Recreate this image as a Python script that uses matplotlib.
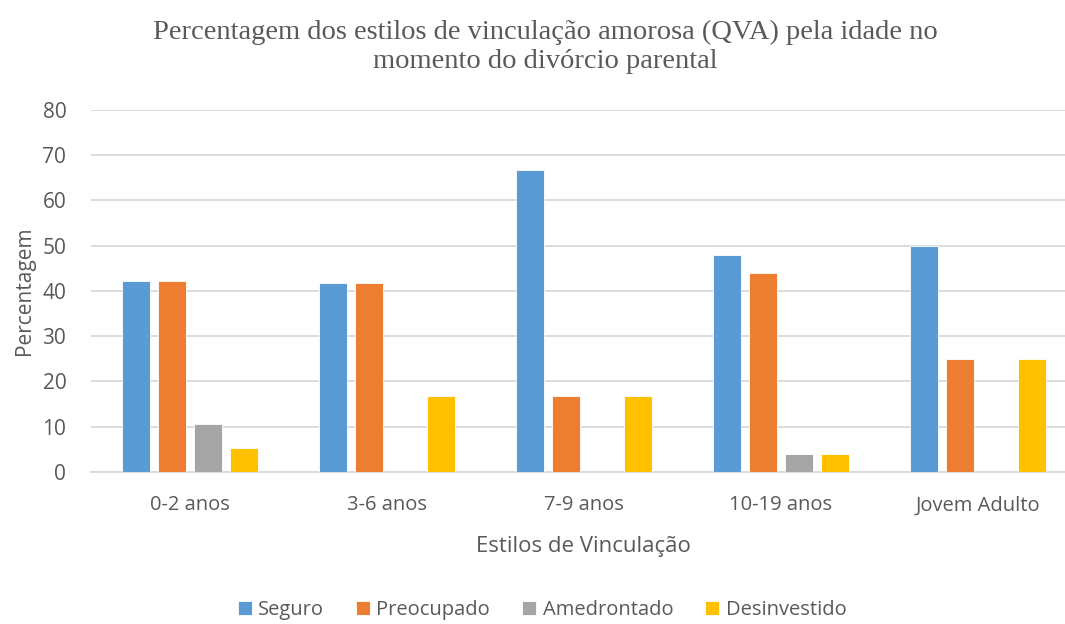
import numpy as np
import matplotlib
matplotlib.use("Agg")
import matplotlib.pyplot as plt

categories = ["0-2 anos", "3-6 anos", "7-9 anos", "10-19 anos", "Jovem Adulto"]
series_names = ["Seguro", "Preocupado", "Amedrontado", "Desinvestido"]
seguro = [42.1, 41.7, 66.7, 48.0, 50.0]
preocupado = [42.1, 41.7, 16.7, 44.0, 25.0]
amedrontado = [10.5, 0.0, 0.0, 4.0, 0.0]
desinvestido = [5.3, 16.7, 16.7, 4.0, 25.0]
colors = ["#5B9BD5", "#ED7D31", "#A5A5A5", "#FFC000"]
yticks = [0, 10, 20, 30, 40, 50, 60, 70, 80]

grey = "#595959"
sans = ["Open Sans", "DejaVu Sans"]

fig = plt.figure(figsize=(10.65, 6.24), dpi=100)
# plot area runs slightly past the right edge, as in the cropped original
ax = fig.add_axes([0.0857, 0.244, 0.925, 0.580])

x = np.arange(len(categories))
width = 0.142
pitch = 0.183
for i, (vals, name) in enumerate(zip([seguro, preocupado, amedrontado, desinvestido], series_names)):
    ax.bar(x + (i - 1.5) * pitch, vals, width, color=colors[i], label=name,
           edgecolor="white", linewidth=0.6, zorder=3)

ax.set_xlim(-0.5, len(categories) - 0.5)
ax.set_ylim(0, 80)
ax.set_yticks(yticks)
ax.set_xticks(x)
ax.set_xticklabels(categories, fontsize=14.5, color=grey, family=sans)
ax.set_yticklabels([str(t) for t in yticks], fontsize=15, color=grey, family=sans)
ax.tick_params(length=0)
ax.tick_params(axis="x", pad=17)
ax.tick_params(axis="y", pad=18)
ax.grid(axis="y", color="#d9d9d9", linewidth=1.3, zorder=0)
for s in ["top", "right", "left"]:
    ax.spines[s].set_visible(False)
ax.spines["bottom"].set_color("#d9d9d9")
ax.spines["bottom"].set_linewidth(1.3)

ax.set_ylabel("Percentagem", fontsize=15, color=grey, family=sans, labelpad=5)
ax.set_xlabel("Estilos de Vinculação", fontsize=16, color=grey, family=sans, labelpad=15)

fig.text(0.512, 0.968, "Percentagem dos estilos de vinculação amorosa (QVA) pela idade no\nmomento do divórcio parental",
         ha="center", va="top", fontsize=20.5, family="Liberation Serif", color=grey, linespacing=1.2)

leg = fig.legend(loc="center", bbox_to_anchor=(0.509, 0.022), ncol=4, frameon=False,
                 prop={"family": sans, "size": 14.5}, handlelength=0.7, handleheight=0.7,
                 handletextpad=0.3, columnspacing=1.6)
for t in leg.get_texts():
    t.set_color(grey)

fig.savefig("out.png", dpi=100)
